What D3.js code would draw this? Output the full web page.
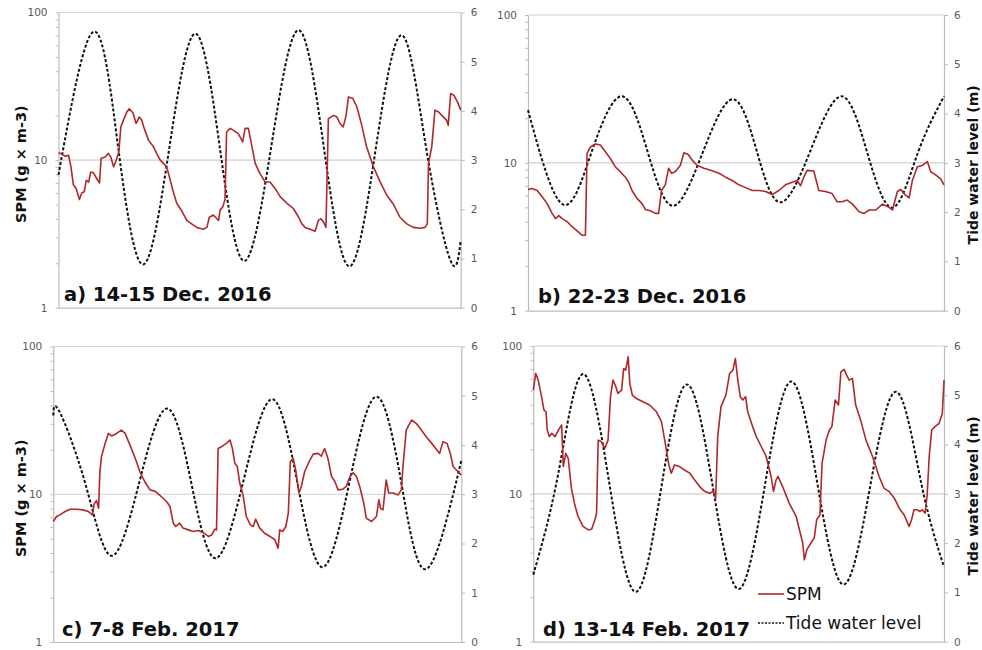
<!DOCTYPE html>
<html><head><meta charset="utf-8">
<script src="https://cdn.jsdelivr.net/npm/d3@7"></script>
<style>
html,body{margin:0;padding:0;background:#fff;}
svg{display:block;font-family:"DejaVu Sans",Verdana,sans-serif;}
</style></head>
<body><svg id="chart" width="982" height="650"></svg>
<script>
// ---- data (x = position along the record, 0-100 %) ----
const panelTitles = ["a) 14-15 Dec. 2016", "b) 22-23 Dec. 2016", "c) 7-8 Feb. 2017", "d) 13-14 Feb. 2017"];
const leftTickLabels = [1, 10, 100];
const rightTickLabels = [0, 1, 2, 3, 4, 5, 6];
const legendLabels = ["SPM", "Tide water level"];
const leftAxisTitle = "SPM (g \u00d7 m-3)";
const rightAxisTitle = "Tide water level (m)";

const spmA = [[0,11.2],[0.8,11.0],[1.7,10.6],[2.5,10.8],[3.1,9.0],[3.7,6.8],[4.4,6.4],[5.2,5.4],[5.8,6.0],[6.4,6.1],[6.9,7.3],[7.5,7.1],[8.0,8.3],[8.7,8.2],[9.5,7.5],[10.2,7.0],[10.6,10.3],[11.6,10.5],[12.4,11.1],[13.0,10.5],[13.7,9.0],[14.3,9.9],[15.0,11.4],[15.5,16.8],[16.3,19.1],[17.0,21.2],[17.6,22.3],[18.5,20.9],[19.3,17.7],[20.1,19.6],[20.7,18.6],[21.3,16.4],[22.4,13.6],[23.6,12.3],[24.4,11.1],[25.3,10.0],[26.1,9.5],[26.9,9.0],[27.8,7.3],[28.6,6.0],[29.4,5.1],[30.7,4.5],[31.9,3.9],[33.1,3.7],[34.4,3.5],[36.0,3.4],[36.9,3.5],[37.5,4.1],[38.5,4.25],[39.8,3.9],[40.2,4.6],[40.8,4.8],[41.4,5.4],[41.8,15.5],[42.7,16.4],[43.5,15.9],[44.7,15.1],[45.8,13.3],[46.4,16.4],[47.2,16.4],[47.8,13.6],[48.9,9.5],[50.1,8.1],[51.4,7.1],[52.6,7.1],[53.9,6.4],[55.1,5.65],[56.8,5.1],[58.4,4.7],[59.7,4.1],[60.5,3.7],[61.3,3.5],[62.6,3.4],[63.8,3.3],[64.6,3.9],[65.2,4.0],[65.9,3.8],[66.5,3.5],[67.1,19.1],[68.4,20.1],[69.2,19.6],[70.0,17.7],[70.8,16.8],[71.5,20.1],[72.1,26.8],[73.2,26.1],[74.2,22.9],[75.4,17.2],[76.6,12.3],[78.3,9.0],[80.0,7.1],[81.6,5.8],[83.3,5.0],[84.9,4.1],[86.6,3.7],[88.2,3.5],[89.9,3.45],[91.1,3.5],[91.7,3.7],[92.0,9.5],[92.8,12.3],[93.6,21.8],[94.5,21.2],[95.3,20.1],[96.5,18.6],[96.9,17.2],[97.5,28.2],[98.3,27.5],[99.2,24.8],[100,21.8]];
const tideA = [[0,2.7],[8.7,5.61],[14.85,3.25],[21.0,0.88],[27.5,3.22],[34.0,5.57],[40.1,3.26],[46.2,0.95],[52.95,3.3],[59.7,5.64],[66.0,3.24],[72.3,0.84],[78.8,3.19],[85.3,5.54],[91.4,3.25],[97.5,0.95],[100,1.37]];

const spmB = [[0,6.6],[1.0,6.7],[2.2,6.5],[3.4,5.9],[4.6,5.3],[5.8,4.55],[6.6,4.2],[7.4,4.4],[8.2,4.2],[9.4,4.0],[10.6,3.7],[11.8,3.47],[13.0,3.24],[13.8,3.24],[14.2,11.6],[15.0,12.8],[16.2,13.4],[17.4,13.2],[18.6,11.9],[19.8,10.7],[21.0,9.4],[22.2,8.7],[23.4,8.0],[24.2,7.4],[25.0,6.5],[26.2,5.75],[27.4,5.3],[28.2,4.84],[29.4,4.74],[30.6,4.55],[31.4,4.55],[32.1,6.5],[33.0,7.1],[33.8,9.2],[34.5,8.5],[35.4,8.7],[36.6,9.6],[37.5,11.7],[38.5,11.4],[39.5,10.4],[40.7,9.6],[42.3,9.2],[43.9,8.9],[45.9,8.5],[47.5,8.0],[49.1,7.6],[50.7,7.1],[52.3,6.8],[53.9,6.5],[55.5,6.5],[57.1,6.4],[58.7,6.1],[60.3,6.5],[61.9,7.1],[63.5,7.4],[64.7,7.6],[65.5,7.0],[66.3,8.0],[67.1,8.9],[68.7,8.8],[69.9,6.5],[71.5,6.4],[73.1,6.2],[74.3,5.45],[75.5,5.45],[76.7,5.6],[77.9,5.3],[79.6,4.67],[80.8,4.55],[82.0,4.8],[83.6,4.8],[85.2,5.26],[86.8,5.0],[87.6,4.8],[88.8,6.4],[89.6,6.6],[90.6,6.1],[91.6,5.8],[92.4,7.6],[93.6,9.4],[94.8,9.6],[96.0,10.2],[96.8,8.7],[98.0,8.3],[99.2,7.8],[100,7.1]];
const tideB = [[0,4.07],[8.3,2.16],[15.45,3.26],[22.6,4.35],[28.7,3.24],[34.8,2.13],[42.0,3.21],[49.2,4.29],[54.95,3.25],[60.7,2.2],[68.05,3.28],[75.4,4.35],[81.5,3.22],[87.6,2.09],[93.7,3.2],[100,4.35]];

const spmC = [[0,6.54],[0.8,7.07],[1.6,7.25],[2.9,7.64],[4.1,7.92],[5.7,7.92],[7.3,7.84],[8.6,7.64],[9.6,7.25],[10.0,8.6],[10.6,9.06],[11.1,8.04],[11.4,13.9],[11.8,17.9],[12.7,22.1],[13.5,25.8],[14.3,24.8],[15.5,25.8],[16.7,27.2],[17.6,25.8],[18.8,21.5],[19.6,18.9],[20.4,16.6],[21.2,14.2],[22.4,12.2],[23.7,10.7],[24.9,10.5],[26.0,9.9],[26.9,9.4],[27.8,8.9],[28.6,8.26],[29.4,6.37],[30.0,6.05],[31.0,6.37],[31.8,5.9],[33.1,5.74],[34.3,5.6],[35.5,5.68],[36.7,5.52],[38.0,5.18],[38.8,5.3],[39.6,5.8],[40.0,5.74],[40.4,20.4],[41.2,20.95],[42.4,22.1],[43.3,23.3],[43.9,20.4],[44.5,16.2],[45.1,15.4],[45.7,11.9],[46.5,9.9],[47.3,7.07],[48.3,6.21],[49.0,6.05],[49.6,6.78],[50.6,5.9],[51.8,5.45],[53.1,5.18],[54.3,4.92],[55.1,4.32],[55.5,5.74],[56.2,5.6],[57.0,6.05],[57.6,7.44],[58.1,16.6],[58.8,17.5],[59.4,14.6],[60.2,10.2],[60.8,11.3],[61.6,14.2],[62.7,16.6],[63.7,18.7],[64.9,18.9],[65.7,18.1],[66.5,20.4],[67.3,17.5],[68.2,13.2],[69.0,12.2],[69.8,10.7],[70.9,10.8],[71.8,11.3],[72.7,13.2],[73.5,14.0],[74.3,13.2],[75.1,11.3],[76.1,8.7],[76.7,6.89],[78.0,6.54],[79.2,7.07],[79.8,9.16],[80.2,8.04],[80.8,7.84],[81.6,12.5],[82.2,10.2],[83.3,10.2],[84.5,9.9],[85.3,10.7],[85.7,15.4],[86.5,27.2],[87.8,31.8],[89.0,30.1],[90.2,27.2],[91.4,24.5],[93.1,21.5],[94.7,18.9],[95.5,22.7],[96.5,22.1],[97.3,18.9],[98.0,15.4],[98.8,14.6],[100,13.5]];
const tideC = [[0,4.6],[1.5,4.68],[7.9,3.2],[14.3,1.75],[21.1,3.25],[27.9,4.74],[33.85,3.22],[39.8,1.7],[46.75,3.32],[53.7,4.93],[59.85,3.22],[66.0,1.52],[72.6,3.25],[79.2,4.98],[85.3,3.23],[91.4,1.48],[100,3.68]];

const spmD = [[0,50.3],[0.6,65.2],[1.2,58.8],[2.0,45.4],[2.6,36.9],[3.1,35.9],[3.4,27.0],[3.9,24.4],[4.5,25.7],[5.3,24.4],[6.1,27.0],[6.9,29.2],[7.3,15.3],[7.9,18.8],[8.5,17.4],[9.3,10.8],[10.1,8.43],[10.9,7.03],[12.1,6.02],[13.4,5.71],[14.2,5.77],[15.0,6.68],[15.4,7.4],[15.8,23.1],[16.6,22.5],[17.4,20.3],[18.2,23.1],[18.8,45.4],[19.4,58.8],[20.1,53.0],[20.6,47.8],[21.5,50.3],[22.0,70.5],[22.5,68.7],[23.1,84.5],[23.5,55.8],[24.1,46.6],[25.1,44.2],[26.7,42.0],[28.3,39.9],[30.0,35.9],[31.2,30.8],[32.0,23.1],[33.0,15.7],[33.6,13.8],[34.4,15.7],[35.6,15.3],[36.8,14.5],[38.1,13.8],[39.3,12.4],[40.5,11.2],[41.7,10.4],[42.9,10.1],[43.9,10.4],[44.4,9.35],[44.9,24.4],[45.7,38.9],[46.9,46.6],[47.8,65.2],[48.6,68.7],[49.2,82.3],[49.8,58.8],[50.4,45.4],[51.0,43.1],[51.7,45.4],[52.2,35.9],[53.4,28.5],[54.3,24.4],[55.5,20.9],[56.7,17.9],[57.9,13.1],[58.5,10.4],[59.1,12.4],[59.6,13.1],[60.7,11.2],[62.3,8.65],[64.0,7.03],[65.6,4.65],[66.0,3.58],[66.6,4.19],[67.6,4.65],[68.4,5.02],[69.0,6.68],[69.8,7.2],[70.3,16.1],[71.3,23.1],[72.1,27.0],[72.7,28.5],[73.5,43.1],[74.3,39.9],[74.9,66.9],[75.7,69.4],[76.3,63.5],[76.9,58.8],[77.7,60.4],[78.5,39.9],[79.8,30.8],[81.0,23.1],[82.6,17.9],[84.2,13.1],[85.4,10.9],[86.6,10.4],[87.9,9.35],[89.1,8.0],[90.3,7.2],[91.5,6.02],[92.1,6.68],[92.7,7.8],[93.5,7.8],[94.1,7.6],[94.7,7.8],[95.4,7.4],[95.9,9.85],[96.4,17.9],[97.0,27.0],[97.8,28.5],[98.8,30.0],[99.6,35.0],[100,58.8]];
const tideD = [[0,1.36],[6.05,3.4],[12.1,5.43],[18.5,3.22],[24.9,1.01],[31.15,3.12],[37.4,5.22],[43.7,3.15],[50.0,1.07],[56.4,3.18],[62.8,5.28],[69.15,3.22],[75.5,1.16],[81.95,3.12],[88.4,5.07],[94.5,3.2],[100,1.52]];

// ---- layout ----
const W = 982, H = 650;
const layout = [
  {x0: 58.5, x1: 460.7, y0: 12.5, y1: 307.7, tx: 64, ty: 301, leftTitle: true,  rightTitle: false},
  {x0: 528,  x1: 944,   y0: 15,   y1: 310.7, tx: 538, ty: 303, leftTitle: false, rightTitle: true},
  {x0: 53.3, x1: 461.3, y0: 346.5, y1: 642,  tx: 62, ty: 636, leftTitle: true,  rightTitle: false},
  {x0: 533.3, x1: 944,  y0: 346,  y1: 641.7, tx: 543, ty: 636, leftTitle: false, rightTitle: true}
];
const spmSeries = [spmA, spmB, spmC, spmD];
const tideSeries = [tideA, tideB, tideC, tideD];

const RED = "#b0282a";
const GRID = "#d0d0d0";
const AXIS = "#bcbcbc";
const LABEL = "#595959";

const svg = d3.select("#chart");
svg.append("rect").attr("width", W).attr("height", H).attr("fill", "#fff");

// minor log ticks 1..100
const logTicks = [];
[1, 10].forEach(dec => { for (let k = 1; k < 10; k++) logTicks.push(k * dec); });
logTicks.push(100);

layout.forEach((L, i) => {
  const x = d3.scaleLinear().domain([0, 100]).range([L.x0, L.x1]);
  const yL = d3.scaleLog().domain([1, 100]).range([L.y1, L.y0]);
  const yR = d3.scaleLinear().domain([0, 6]).range([L.y1, L.y0]);
  const g = svg.append("g");

  // horizontal gridlines (10 and 100)
  g.selectAll("line.grid").data([10, 100]).join("line")
    .attr("x1", L.x0).attr("x2", L.x1)
    .attr("y1", d => yL(d)).attr("y2", d => yL(d))
    .attr("stroke", GRID).attr("stroke-width", 1.2);

  // bottom axis line
  g.append("g").attr("transform", `translate(0,${L.y1})`)
    .call(d3.axisBottom(x).tickValues([]).tickSizeOuter(0))
    .call(a => a.select(".domain").attr("stroke", AXIS).attr("stroke-width", 1.2));

  // left log axis
  g.append("g").attr("transform", `translate(${L.x0},0)`)
    .call(d3.axisLeft(yL).tickValues(logTicks).tickSize(3).tickSizeOuter(0).tickPadding(8)
      .tickFormat(d => leftTickLabels.includes(d) ? String(d) : ""))
    .call(a => {
      a.select(".domain").attr("stroke", AXIS).attr("stroke-width", 1.2);
      a.selectAll(".tick line").attr("stroke", AXIS);
      a.selectAll(".tick text").attr("fill", LABEL).style("font-size", "10.5px")
        .style("font-family", '"DejaVu Sans",Verdana,sans-serif');
    });

  // right linear axis
  g.append("g").attr("transform", `translate(${L.x1},0)`)
    .call(d3.axisRight(yR).tickValues(rightTickLabels).tickSize(4).tickSizeOuter(0).tickPadding(6)
      .tickFormat(d3.format("d")))
    .call(a => {
      a.select(".domain").attr("stroke", AXIS).attr("stroke-width", 1.2);
      a.selectAll(".tick line").attr("stroke", AXIS);
      a.selectAll(".tick text").attr("fill", LABEL).style("font-size", "10.5px")
        .style("font-family", '"DejaVu Sans",Verdana,sans-serif');
    });

  // tide (dashed)
  const tideLine = d3.line().x(d => x(d[0])).y(d => yR(d[1])).curve(d3.curveNatural);
  g.append("path").datum(tideSeries[i]).attr("d", tideLine)
    .attr("fill", "none").attr("stroke", "#111").attr("stroke-width", 2)
    .attr("stroke-dasharray", "3,2");

  // SPM (solid red)
  const spmLine = d3.line().x(d => x(d[0])).y(d => yL(d[1]));
  g.append("path").datum(spmSeries[i]).attr("d", spmLine)
    .attr("fill", "none").attr("stroke", RED).attr("stroke-width", 1.6)
    .attr("stroke-linejoin", "round");

  // panel title
  g.append("text").attr("x", L.tx).attr("y", L.ty).text(panelTitles[i])
    .attr("font-weight", "bold").attr("font-size", "19.5px").attr("fill", "#111");

  if (L.leftTitle) {
    g.append("text")
      .attr("transform", `translate(25.5,${(L.y0 + L.y1) / 2 + 4}) rotate(-90)`)
      .attr("text-anchor", "middle").attr("font-weight", "bold").attr("font-size", "14.5px")
      .attr("fill", "#111").text(leftAxisTitle);
  }
  if (L.rightTitle) {
    g.append("text")
      .attr("transform", `translate(977.5,${(L.y0 + L.y1) / 2 + 2}) rotate(-90)`)
      .attr("text-anchor", "middle").attr("font-weight", "bold").attr("font-size", "14px")
      .attr("fill", "#111").text(rightAxisTitle);
  }
});

// legend (in panel d)
const lg = svg.append("g");
lg.append("line").attr("x1", 758).attr("x2", 784).attr("y1", 594).attr("y2", 594)
  .attr("stroke", RED).attr("stroke-width", 1.6);
lg.append("text").attr("x", 786).attr("y", 594).attr("dy", "0.35em").text(legendLabels[0])
  .attr("font-size", "17px").attr("fill", "#111");
lg.append("line").attr("x1", 758).attr("x2", 784).attr("y1", 623).attr("y2", 623)
  .attr("stroke", "#111").attr("stroke-width", 1.5).attr("stroke-dasharray", "2,1.5");
lg.append("text").attr("x", 786).attr("y", 623).attr("dy", "0.35em").text(legendLabels[1])
  .attr("font-size", "17px").attr("fill", "#111");
</script></body></html>
